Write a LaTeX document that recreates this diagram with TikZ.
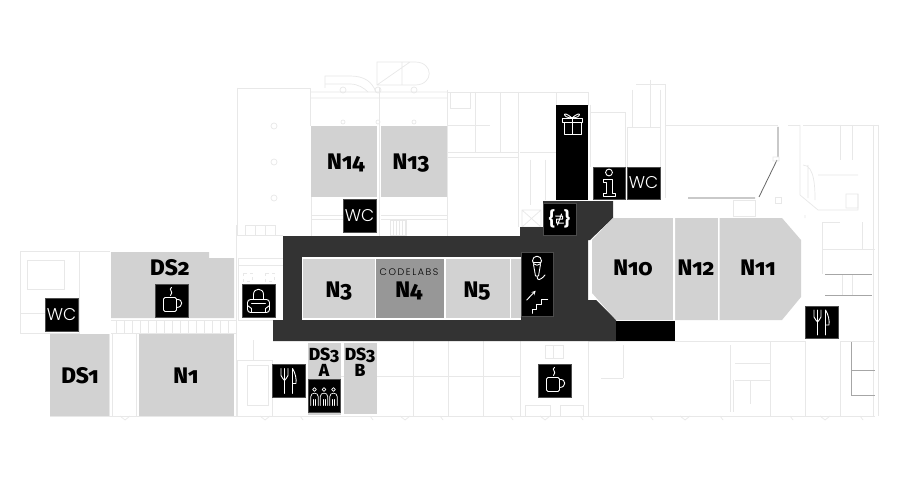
\documentclass[tikz,border=0pt]{standalone}
\usepackage{fontspec}
\setmainfont[Numbers=OldStyle]{Fira Sans}
\newfontfamily\thinfont{Poppins}[UprightFont=* Light]
\newfontfamily\heavyfont[Numbers=OldStyle]{Fira Sans}[UprightFont=* ExtraBold]
\definecolor{wallgrey}{HTML}{E8E8E8}
\definecolor{roomgrey}{HTML}{D2D2D2}
\definecolor{labgrey}{HTML}{979797}
\definecolor{hallgrey}{HTML}{333333}
\tikzset{
  wall/.style={draw=wallgrey, line width=.7pt},
  glasswall/.style={draw=black!60, line width=.8pt},
  room/.style={fill=roomgrey},
  roomlabel/.style={anchor=base, inner sep=0pt, font=\heavyfont\fontsize{22.5}{22.5}\selectfont},
  smalllabel/.style={anchor=base, inner sep=0pt, font=\heavyfont\fontsize{17.5}{17.5}\selectfont},
  iconbox/.style={fill=black, draw=black!70, line width=.3pt, inner sep=0pt, minimum size=32.5pt, text=white, font=\thinfont\fontsize{17}{17}\selectfont},
  glyph/.style={draw=white, line width=.9pt, line join=round, line cap=round},
  coffeecup/.pic={
    \draw[glyph, rounded corners=1.5pt] (-8,-3) -- (5,-3) -- (5,11) -- (-8,11) -- cycle;
    \draw[glyph] (5,-1) .. controls (12,-2) and (12,7) .. (5,7);
    \draw[glyph] (0,-13) .. controls (-4,-11) and (3,-9) .. (-1,-5);
  },
  handbag/.pic={
    \draw[glyph] (-5,-1) -- (-5,-6) .. controls (-5,-13) and (5,-13) .. (5,-6) -- (5,-1);
    \draw[glyph, rounded corners=3pt] (-11,-1) -- (11,-1) -- (11,12) -- (-11,12) -- cycle;
    \draw[glyph] (-7,3) -- (7,3) (-11,5) -- (-7,8) -- (-7,12) (11,5) -- (7,8) -- (7,12);
  },
  cutlery/.pic={
    \draw[glyph] (-7.5,-12) -- (-7.5,-5) .. controls (-7.5,-2) and (-4,-2) .. (-4,0) -- (-4,13);
    \draw[glyph] (-.5,-12) -- (-.5,-5) .. controls (-.5,-2) and (-4,-2) .. (-4,0) (-4,-12) -- (-4,0);
    \draw[glyph] (4,13) -- (4,-12) .. controls (7,-7) and (8,-2) .. (7.5,3) -- (4,3);
  },
  giftbox/.pic={
    \draw[glyph] (-10,-4) rectangle (10.5,0) (-8,0) rectangle (9,12) (0,-4) -- (0,12);
    \draw[glyph] (0,-4) .. controls (-10,-13) and (-10,-4) .. (0,-4) .. controls (10,-13) and (10,-4) .. (0,-4);
  },
  infostand/.pic={
    \draw[glyph] (0,-10.5) circle (3.4pt);
    \draw[glyph] (-6,-4) -- (3,-4) -- (3,10) -- (6,10) -- (6,13) -- (-6,13) -- (-6,10) -- (-3,10) -- (-3,-1) -- (-6,-1) -- cycle;
  },
  bracecode/.pic={
    \draw[glyph, line width=1pt] (-4,-3) -- (3,-3) -- (3,0) -- (-3,0) -- (-3,4) -- (4,4) (2,-5) -- (-2,6);
  },
  micstairs/.pic={
    \draw[glyph] (0,-23.3) circle (4.5pt);
    \draw[glyph] (-4,-21.5) -- (4,-21.5) (-3.5,-19.5) -- (-1.5,-8) -- (1.5,-8) -- (3.5,-19.5);
    \draw[glyph] (0,-8) .. controls (0,-3) and (3,-3) .. (8,-9);
    \draw[glyph, ->, >=stealth] (-10.3,16) -- (-1.3,6.7);
    \draw[glyph] (-4.7,29.3) -- (-4.7,25.3) -- (-.3,25.3) -- (-.3,20) -- (4.7,20) -- (4.7,15.3) -- (10.7,15.3);
  },
  threepeople/.pic={
    \foreach \px in {-9.5,0,9.5} {
      \draw[glyph, line width=.7pt] (\px,-6) circle (1.9pt);
      \draw[glyph, line width=.7pt] (\px-3.7,10) -- (\px-3.7,1) .. controls (\px-3.7,-3.5) and (\px+3.7,-3.5) .. (\px+3.7,1) -- (\px+3.7,10);
      \draw[glyph, line width=.6pt] (\px-1,10) -- (\px-1,4) (\px+1,10) -- (\px+1,4);
    }
  }
}
\begin{document}
\begin{tikzpicture}[x=1pt,y=-1pt]
  \useasboundingbox (0,0) rectangle (900,500);
  \fill[white] (0,0) rectangle (900,500);

  % plan, west wing and hall
  \draw[wall, line width=1pt] (20,251) rectangle (79,333) (79,251) -- (110,251);
  \draw[wall] (27,260) rectangle (64,289) (20,313) -- (45,313);
  \draw[wall] (50,334) -- (50,416) -- (875,416) (109,334) -- (109,416) (112,333) -- (112,416);
  \draw[wall] (136,333) -- (136,416) (139,333) -- (139,416) (111,320) -- (236,320) (111,333) -- (236,333);
  \foreach \tickx in {116,124,...,232} \draw[wall] (\tickx,320) -- (\tickx,333);
  \foreach \tickx in {120,260,...,860} \draw[wall] (\tickx,416) -- (\tickx+5,420) -- (\tickx+10,416);
  \foreach \tickx in {300,370,...,860} \draw[wall] (\tickx,416) -- (\tickx+3,420);
  \draw[wall] (236,225) -- (236,416) (238,258) rectangle (283,320) (238,265) -- (283,265);
  \draw[wall, dashed] (243,273) rectangle (252,281) (265,273) rectangle (274,281);
  \draw[wall] (237,360) rectangle (272,416) (247,365) rectangle (268,405) (253,340) -- (253,360);

  % plan, north hall
  \draw[wall] (237,88) -- (310,88) -- (310,126) (237,88) -- (237,235) -- (283,235);
  \draw[wall] (245,225) rectangle (275,235) (255,225) -- (255,235) (265,225) -- (265,235);
  \foreach \coly in {126,162,198} \draw[wall] (274,\coly) circle (3pt);
  \draw[wall] (310,92) -- (447,92) (310,98) -- (447,98) (325,88) -- (325,76) -- (350,76) .. controls (365,76) and (372,82) .. (376,92);
  \draw[wall] (325,84) -- (350,84) .. controls (358,84) and (364,88) .. (368,92);
  \draw[wall] (377,62) -- (415,62) .. controls (434,62) and (434,85) .. (415,85) -- (377,85) -- cycle (377,85) -- (410,62) (402,62) -- (402,85);
  \foreach \colx in {343,378,414} \draw[wall] (\colx,90) circle (3pt) (\colx,122) circle (2pt);
  \draw[wall] (311,197) -- (311,236) (379,88) -- (379,236) (447,90) -- (447,236) (311,215) -- (343,215) (311,219) -- (343,219);
  \draw[wall] (381,215) -- (447,215) (381,219) -- (447,219) (390,220) rectangle (406,235);
  \foreach \tickx in {393,396,...,405} \draw[wall] (\tickx,220) -- (\tickx,235);

  % plan, offices north of the corridor
  \draw[wall] (447,92) -- (556,92) (447,152) -- (518,152) (447,157) -- (518,157) (518,92) -- (518,227);
  \draw[wall] (475,92) -- (475,152) (447,125) -- (475,125) (450,92) rectangle (470,108) (475,125) -- (490,125) (500,92) -- (500,152);
  \draw[wall] (522,210) rectangle (541,227) (522,210) -- (541,227) (541,210) -- (522,227);
  \draw[wall] (520,152) -- (556,152) (530,160) -- (530,205) (545,160) -- (545,200) (556,92) rectangle (588,105);
  \draw[wall] (590,112) -- (625,112) -- (625,167) (590,105) -- (590,167) (627,127) rectangle (660,167) (632,90) -- (632,127) (650,80) -- (650,127);
  \draw[wall] (636,84) -- (665,84) -- (665,198) (660,90) -- (660,200);

  % plan, east side
  \draw[wall] (665,125) -- (778,125) (788,125) -- (800,125) (733,200) rectangle (755,216) (775,197) rectangle (781,203);
  \draw[glasswall] (778,127) -- (778,157) (777,160) -- (759,197) (688,198) -- (755,198);
  \draw[wall] (773,157) rectangle (779,161) (805,215) -- (805,218) (800,125) -- (800,195) -- (818,210) -- (858,210) -- (858,194);
  \draw[wall] (803,125) -- (878,125) (840,125) -- (840,160) (852,125) -- (852,160) (873,125) -- (873,416) (878,125) -- (878,416);
  \draw[wall] (803,165) .. controls (815,165) and (815,190) .. (815,200) (808,165) -- (808,198) (818,175) -- (858,175) (846,194) rectangle (858,208);
  \draw[wall] (822,222) -- (822,274) (822,222) -- (840,222) (822,249) -- (875,249) (862,222) -- (862,249) (842,274) -- (842,295) (852,274) -- (852,295);
  \draw[wall, draw=black!35] (825,274) -- (872,274) (825,295) -- (872,295) (851,341) -- (851,395) (851,370) -- (875,370) (851,395) -- (875,395);
  \draw[wall] (840,341) -- (875,341) (840,341) -- (840,416) (805,341) -- (805,416) (588,341) -- (805,341) (588,341) -- (588,416);
  \draw[wall] (623,345) -- (623,378) (601,378) -- (623,378) (730,345) -- (730,412) (770,341) -- (770,416) (735,363) -- (770,363) (735,380) -- (770,380) (733,380) -- (733,412) (750,380) -- (750,404);

  % plan, south of the corridor
  \draw[wall] (413,341) -- (413,416) (448,341) -- (448,416) (483,341) -- (483,416) (520,341) -- (520,416) (341,376) -- (520,376);
  \draw[wall] (545,345) rectangle (563,358) (553,345) -- (553,358) (525,405) rectangle (550,416) (560,405) rectangle (583,416);

  % corridor and closed areas
  \fill[hallgrey] (283,236) -- (520,236) -- (520,227) -- (543,227) -- (543,201) -- (613,201) -- (613,218) -- (590,240) -- (588,240) -- (588,300) -- (596,300) -- (616,320) -- (616,341) -- (273,341) -- (273,320) -- (283,320) -- cycle;
  \fill[white] (302,257) rectangle (521,320);
  \fill[black] (616,321) rectangle (675,341);
  \fill[black] (556,105) rectangle (588,200);

  % rooms
  \fill[room] (111,252) -- (209,252) -- (209,258) -- (234,258) -- (234,318) -- (111,318) -- cycle;
  \fill[room] (50,334) rectangle (109,416);
  \fill[room] (139,334) rectangle (234,416);
  \fill[room] (311,126) rectangle (377,197);
  \fill[room] (381,126) rectangle (447,197);
  \fill[room] (303,259) rectangle (375,318);
  \fill[labgrey] (376,259) rectangle (444,318);
  \fill[room] (446,259) rectangle (510,318);
  \fill[room] (511,259) rectangle (521,318);
  \fill[room] (308,343) rectangle (341,415);
  \fill[room] (344,343) rectangle (377,414);
  \fill[room] (613,218) -- (782,218) -- (801,240) -- (801,297) -- (782,320) -- (616,320) -- (592,293) -- (592,240) -- cycle;
  \fill[white] (673,218) rectangle (675,320) (718,218) rectangle (719.5,320);

  % room names
  \node[roomlabel] (ds2) at (170,275) {DS2};
  \node[roomlabel] (ds1) at (80,383) {DS1};
  \node[roomlabel] (n1) at (186,383) {N1};
  \node[roomlabel] (n14) at (346,170) {N14};
  \node[roomlabel] (n13) at (411,170) {N13};
  \node[roomlabel] (n3) at (339,297) {N3};
  \node[roomlabel] (n4) at (409,297) {N4};
  \node[roomlabel] (n5) at (477,297) {N5};
  \node[anchor=base, inner sep=0pt, font=\thinfont\fontsize{9.5}{9.5}\selectfont] (codelabs) at (409,275) {C\,O\,D\,E\,L\,A\,B\,S};
  \node[roomlabel] (n10) at (633,275) {N10};
  \node[roomlabel] (n12) at (696,275) {N12};
  \node[roomlabel] (n11) at (758,275) {N11};
  \node[smalllabel] (ds3a) at (324,360) {DS3};
  \node[smalllabel] (ds3ax) at (324,376) {A};
  \node[smalllabel] (ds3b) at (360,360) {DS3};
  \node[smalllabel] (ds3bx) at (360,376) {B};

  % icon boxes
  \node[iconbox] (wcwest) at (61.5,314.5) {WC};
  \node[iconbox] (wcnorth) at (359.5,215.5) {WC};
  \node[iconbox] (wceast) at (643.5,183) {WC};
  \node[iconbox] (cafewest) at (171.5,300.5) {};
  \node[iconbox] (cafesouth) at (554.5,380.5) {};
  \node[iconbox] (bag) at (258.5,300.5) {};
  \node[iconbox] (foodwest) at (288.5,380.5) {};
  \node[iconbox] (foodeast) at (821.5,322) {};
  \node[iconbox] (people) at (324,395.5) {};
  \node[iconbox] (info) at (609,183) {};
  \node[iconbox, font=\bfseries\fontsize{19}{19}\selectfont] (code) at (559.5,219) {\{\hspace{9pt}\}};
  \node[iconbox, minimum width=32.5pt, minimum height=64pt] (stage) at (537,284) {};
  \pic at (cafewest) {coffeecup};
  \pic at (cafesouth) {coffeecup};
  \pic at (bag) {handbag};
  \pic at (foodwest) {cutlery};
  \pic at (foodeast) {cutlery};
  \pic at (people) {threepeople};
  \pic at (info) {infostand};
  \pic at (code) {bracecode};
  \pic at (stage) {micstairs};
  \pic at (572,122) {giftbox};
\end{tikzpicture}
\end{document}
